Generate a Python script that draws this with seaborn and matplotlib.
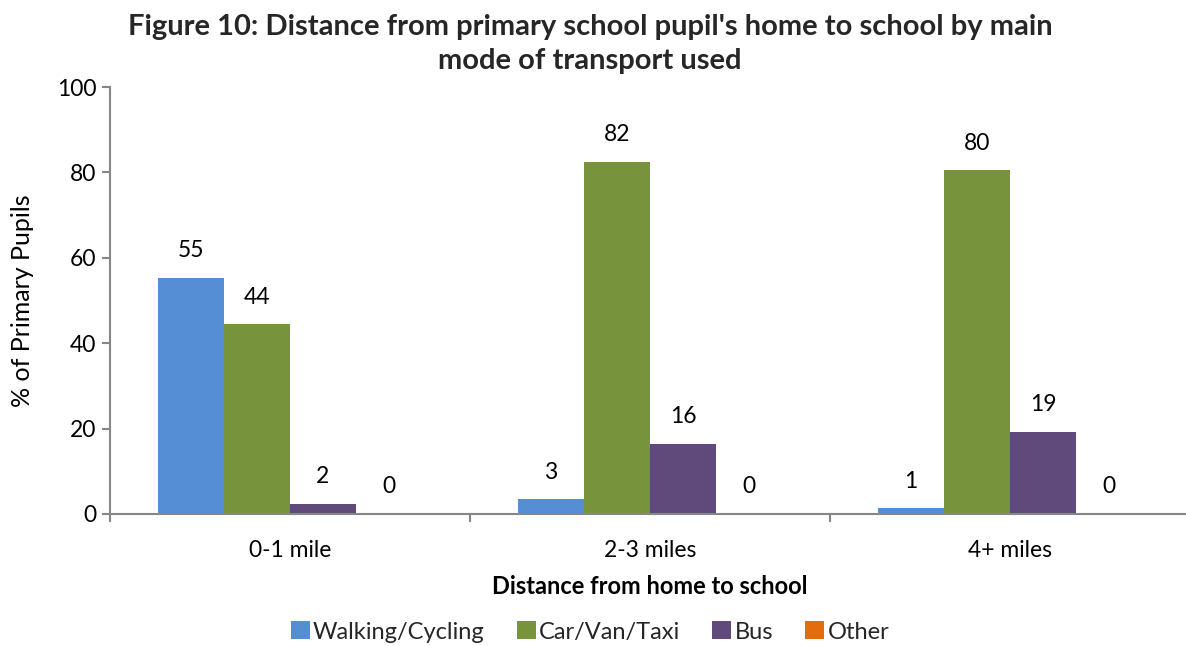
import matplotlib
matplotlib.use("Agg")
import matplotlib.pyplot as plt
import seaborn as sns
import pandas as pd

categories = ["0-1 mile", "2-3 miles", "4+ miles"]
modes = ["Walking/Cycling", "Car/Van/Taxi", "Bus", "Other"]
walking = [55.3, 3.4, 1.3]
car = [44.4, 82.4, 80.5]
bus = [2.4, 16.5, 19.2]
other = [0.0, 0.0, 0.0]
colors = ["#558ED5", "#77933C", "#604A7B", "#E46C0A"]

rows = []
for series, name in zip([walking, car, bus, other], modes):
    for c, v in zip(categories, series):
        rows.append({"Distance": c, "Mode": name, "Value": v})
df = pd.DataFrame(rows)

sns.set_theme(style="white")
plt.rcParams["font.family"] = ["Lato", "DejaVu Sans"]

fig = plt.figure(figsize=(11.86, 6.46), dpi=100)
ax = fig.add_axes([110 / 1186, (646 - 514) / 646, 1080 / 1186, 427 / 646])

sns.barplot(data=df, x="Distance", y="Value", hue="Mode", order=categories,
            hue_order=modes, palette=colors, width=0.733, saturation=1,
            ax=ax, legend=True, errorbar=None, linewidth=0)

for cont in ax.containers:
    labels = [f"{round(b.get_height()):.0f}" for b in cont]
    ax.bar_label(cont, labels=labels, padding=12, fontsize=16.5, color="#000000")

ax.set_ylim(0, 100)
ax.set_xlim(-0.5, 2.5)
ax.set_yticks([0, 20, 40, 60, 80, 100])
ax.tick_params(axis="y", labelsize=16.5, length=6, width=1.5, color="#868686",
               left=True, pad=4, labelcolor="#000000")
ax.set_xticks([0, 1, 2])
ax.set_xticklabels(categories)
ax.tick_params(axis="x", which="major", labelsize=16.5, length=0, pad=19, labelcolor="#000000")
ax.set_xticks([-0.5, 0.5, 1.5, 2.5], minor=True)
ax.tick_params(axis="x", which="minor", length=6, width=1.5, color="#868686", bottom=True)

for s in ["top", "right"]:
    ax.spines[s].set_visible(False)
for s in ["left", "bottom"]:
    ax.spines[s].set_color("#868686")
    ax.spines[s].set_linewidth(1.5)

ax.set_ylabel("% of Primary Pupils", fontsize=18, labelpad=16, color="#000000")
ax.set_xlabel("Distance from home to school", fontsize=17, fontweight="bold",
              labelpad=10, color="#000000")

fig.suptitle("Figure 10: Distance from primary school pupil's home to school by main\nmode of transport used",
             x=590 / 1186, y=1 - 14 / 646, fontsize=21, fontweight="bold",
             va="top", linespacing=1.4)

handles, labs = ax.get_legend_handles_labels()
ax.legend_.remove()
fig.legend(handles, labs, loc="center", bbox_to_anchor=(590 / 1186, 1 - 632 / 646),
           ncol=4, frameon=False, fontsize=17, handlelength=0.8, handleheight=0.8,
           handletextpad=0.15, columnspacing=1.35)

fig.savefig("out.png", dpi=100)
